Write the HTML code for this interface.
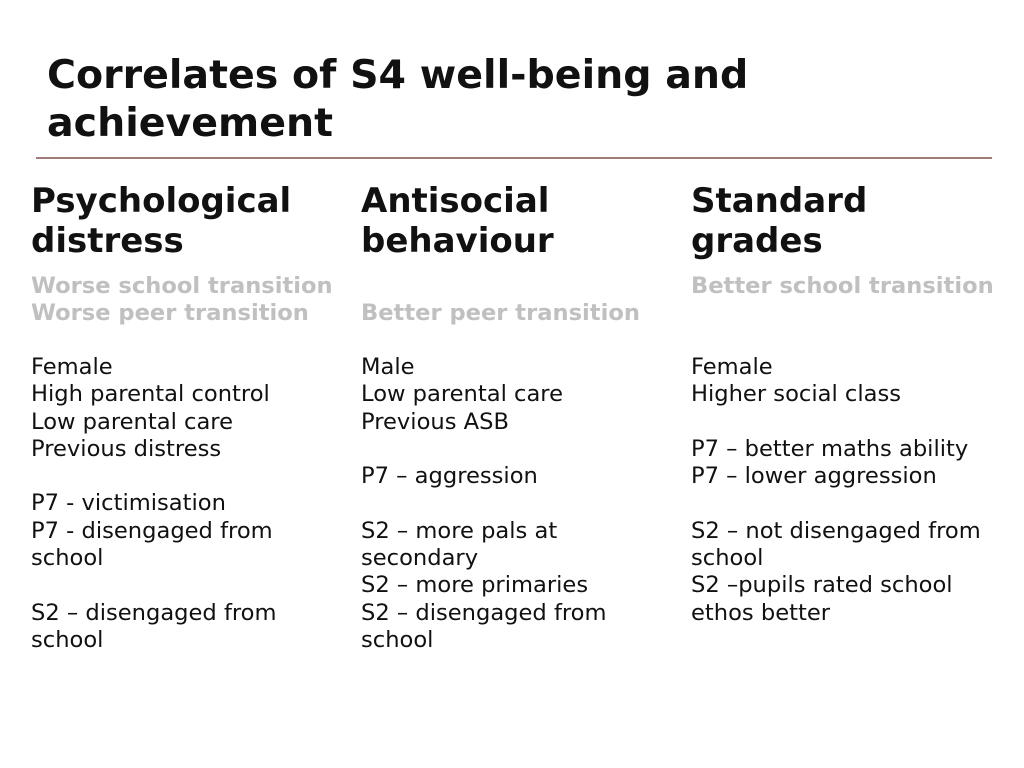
<!DOCTYPE html>
<html><head><meta charset="utf-8"><style>
body{margin:0;width:1024px;height:768px;background:#fff;position:relative;overflow:hidden;font-family:"DejaVu Sans","Liberation Sans",sans-serif;color:#111}
.t{position:absolute;white-space:nowrap;line-height:30px}
.title{font-weight:bold;font-size:39.5px;left:47px;line-height:48px}
.h{font-weight:bold;font-size:34px;line-height:40px}
.g{font-weight:bold;font-size:22.6px;color:#c0c0c0}
.b{font-size:22.6px}
</style></head><body>
<div class="t title" style="top:51px">Correlates of S4 well-being and<br>achievement</div>
<div style="position:absolute;left:36px;top:157px;width:956px;height:2px;background:#a07c78"></div>

<div>
<div class="t h" style="left:31px;top:181px">Psychological<br>distress</div>
<div class="t g" style="left:31px;top:271px">Worse school transition</div>
<div class="t g" style="left:31px;top:298px">Worse peer transition</div>
<div class="t b" style="left:31px;top:354px;line-height:27.3px">Female<br>High parental control<br>Low parental care<br>Previous distress<br><br>P7 - victimisation<br>P7 - disengaged from<br>school<br><br>S2 – disengaged from<br>school</div>
</div>

<div>
<div class="t h" style="left:361px;top:181px">Antisocial<br>behaviour</div>
<div class="t g" style="left:361px;top:298px">Better peer transition</div>
<div class="t b" style="left:361px;top:354px;line-height:27.3px">Male<br>Low parental care<br>Previous ASB<br><br>P7 – aggression<br><br>S2 – more pals at<br>secondary<br>S2 – more primaries<br>S2 – disengaged from<br>school</div>
</div>

<div>
<div class="t h" style="left:691px;top:181px">Standard<br>grades</div>
<div class="t g" style="left:691px;top:271px">Better school transition</div>
<div class="t b" style="left:691px;top:354px;line-height:27.3px">Female<br>Higher social class<br><br>P7 – better maths ability<br>P7 – lower aggression<br><br>S2 – not disengaged from<br>school<br>S2 –pupils rated school<br>ethos better</div>
</div>
</body></html>
